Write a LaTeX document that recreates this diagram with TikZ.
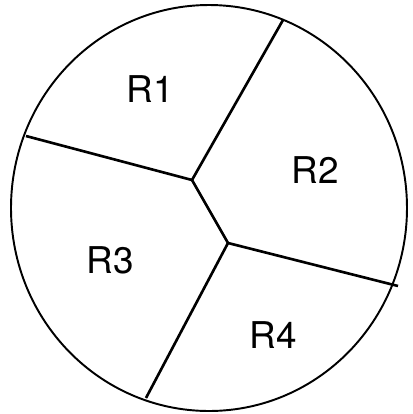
\documentclass[tikz,border=0pt]{standalone}
\usepackage{fontspec}
\setsansfont{TeX Gyre Heros}
\usepackage{tikz}

\begin{document}
\begin{tikzpicture}[x=0.02cm,y=-0.02cm,line join=round,
    region/.style={font=\fontsize{21}{24}\sffamily}]
        \useasboundingbox (0,0) rectangle (413,414);
        \draw[line width=1.1pt] (209,208) ellipse (198 and 203);
        \coordinate (j1) at (192,180);
        \coordinate (j2) at (228,243);
        \coordinate (top) at (283,20);
        \coordinate (left) at (26,136);
        \coordinate (right) at (398,286);
        \coordinate (bottom) at (146,398);
        \draw[line width=1.5pt] (left) -- (j1) -- (top);
        \draw[line width=1.5pt] (j1) -- (j2) -- (right);
        \draw[line width=1.5pt] (j2) -- (bottom);
        \node[region] (r1) at (150,89) {R1};
        \node[region] (r2) at (315,170) {R2};
        \node[region] (r3) at (110,260) {R3};
        \node[region] (r4) at (273,335) {R4};
      \end{tikzpicture}
\end{document}
